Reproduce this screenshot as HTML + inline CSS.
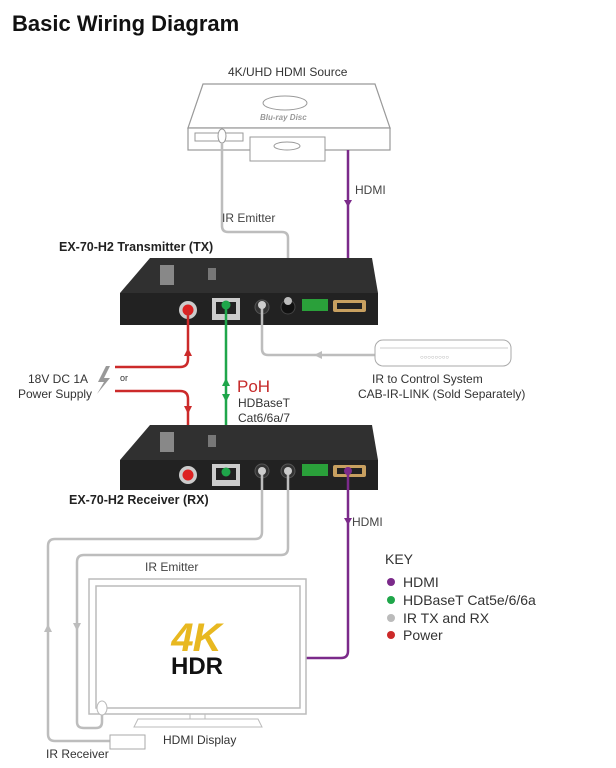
<!DOCTYPE html>
<html><head><meta charset="utf-8"><style>
html,body{margin:0;padding:0;background:#fff;}
svg{display:block;font-family:"Liberation Sans",sans-serif;}
</style></head><body>
<svg width="616" height="768" viewBox="0 0 616 768" xmlns="http://www.w3.org/2000/svg">
<text x="12" y="31" font-size="22" font-weight="bold" fill="#111">Basic Wiring Diagram</text>

<!-- Source -->
<text x="228" y="76" font-size="12" fill="#333">4K/UHD HDMI Source</text>
<path d="M203,84 L375,84 L390,128 L188,128 Z" fill="#fff" stroke="#999" stroke-width="1.2"/>
<rect x="188" y="128" width="202" height="22" fill="#fff" stroke="#999" stroke-width="1.2"/>
<ellipse cx="285" cy="103" rx="22" ry="7" fill="none" stroke="#999"/>
<text x="260" y="120" font-size="8" font-style="italic" font-weight="bold" fill="#999">Blu-ray Disc</text>
<rect x="195" y="133" width="48" height="8" fill="none" stroke="#999"/>
<rect x="250" y="137" width="75" height="24" fill="#fff" stroke="#999"/>
<ellipse cx="287" cy="146" rx="13" ry="4" fill="none" stroke="#999"/>
<ellipse cx="222" cy="136" rx="4" ry="7" fill="#fff" stroke="#999"/>

<path d="M222,143 L222,226 Q222,232 228,232 L282,232 Q288,232 288,238 L288,300" fill="none" stroke="#bdbdbd" stroke-width="2.5"/>
<text x="222" y="222" font-size="12" fill="#444">IR Emitter</text>
<path d="M348,150 L348,302" stroke="#7b2a8a" stroke-width="2.5"/>
<path d="M344,200 L348,207 L352,200 z" fill="#7b2a8a"/>
<text x="355" y="194" font-size="12" fill="#444">HDMI</text>

<!-- TX box -->
<text x="59" y="251" font-size="12.5" font-weight="bold" fill="#222">EX-70-H2 Transmitter (TX)</text>
<path d="M150,258 L372,258 L378,293 L120,293 Z" fill="#303030"/>
<rect x="120" y="293" width="258" height="32" fill="#222"/>
<rect x="160" y="265" width="14" height="20" fill="#888"/>
<rect x="208" y="268" width="8" height="12" fill="#777"/>
<circle cx="188" cy="310" r="9" fill="#ccc"/><circle cx="188" cy="310" r="5.5" fill="#d22"/>
<rect x="212" y="298" width="28" height="22" fill="#ccc"/><rect x="216" y="302" width="20" height="12" fill="#222"/>
<circle cx="262" cy="307" r="7" fill="#333" stroke="#555"/>
<circle cx="288" cy="307" r="7" fill="#111" stroke="#444"/>
<rect x="302" y="299" width="26" height="12" fill="#2aa03a"/>
<rect x="333" y="300" width="33" height="12" rx="2" fill="#c8a060"/><rect x="337" y="303" width="25" height="6" fill="#222"/>
<circle cx="288" cy="301" r="4" fill="#bbb"/>

<path d="M262,305 L262,349 Q262,355 268,355 L376,355" fill="none" stroke="#bdbdbd" stroke-width="2.5"/>
<path d="M322,351 L314,355 L322,359 z" fill="#bdbdbd"/>
<circle cx="262" cy="305" r="4" fill="#ccc"/>
<rect x="375" y="340" width="136" height="26" rx="8" fill="#fff" stroke="#aaa"/>
<line x1="380" y1="348" x2="508" y2="348" stroke="#ccc"/>
<text x="420" y="359" font-size="6" fill="#999">○○○○○○○○</text>
<text x="372" y="383" font-size="12" fill="#333">IR to Control System</text>
<text x="358" y="398" font-size="12" fill="#333">CAB-IR-LINK (Sold Separately)</text>

<!-- Power -->
<text x="28" y="383" font-size="12" fill="#333">18V DC 1A</text>
<text x="18" y="398" font-size="12" fill="#333">Power Supply</text>
<path d="M106,366 L98,382 L104,382 L97,394 L110,378 L104,378 L110,366 Z" fill="#999"/>
<text x="120" y="381" font-size="9" fill="#333">or</text>
<path d="M115,367 L180,367 Q188,367 188,359 L188,310" fill="none" stroke="#cc2a2a" stroke-width="2.5"/>
<path d="M184,356 L188,348 L192,356 z" fill="#cc2a2a"/>
<path d="M115,391 L180,391 Q188,391 188,399 L188,475" fill="none" stroke="#cc2a2a" stroke-width="2.5"/>
<path d="M184,406 L188,414 L192,406 z" fill="#cc2a2a"/>

<path d="M226,305 L226,475" stroke="#1fa64a" stroke-width="2.5"/>
<path d="M222,386 L226,378 L230,386 z" fill="#1fa64a"/>
<path d="M222,394 L226,402 L230,394 z" fill="#1fa64a"/>
<circle cx="226" cy="305" r="4.5" fill="#1fa64a"/>
<text x="237" y="392" font-size="17" fill="#c62a2a">PoH</text>
<text x="238" y="407" font-size="12" fill="#333">HDBaseT</text>
<text x="238" y="422" font-size="12" fill="#333">Cat6/6a/7</text>

<!-- RX box -->
<path d="M150,425 L372,425 L378,460 L120,460 Z" fill="#303030"/>
<rect x="120" y="460" width="258" height="30" fill="#222"/>
<rect x="160" y="432" width="14" height="20" fill="#888"/>
<rect x="208" y="435" width="8" height="12" fill="#777"/>
<circle cx="188" cy="475" r="9" fill="#ccc"/><circle cx="188" cy="475" r="5.5" fill="#d22"/>
<rect x="212" y="464" width="28" height="22" fill="#ccc"/><rect x="216" y="468" width="20" height="12" fill="#222"/>
<circle cx="226" cy="472" r="4.5" fill="#1fa64a"/>
<circle cx="262" cy="471" r="7" fill="#333" stroke="#555"/>
<circle cx="288" cy="471" r="7" fill="#333" stroke="#555"/>
<rect x="302" y="464" width="26" height="12" fill="#2aa03a"/>
<rect x="333" y="465" width="33" height="12" rx="2" fill="#c8a060"/><rect x="337" y="468" width="25" height="6" fill="#222"/>
<text x="69" y="504" font-size="12.5" font-weight="bold" fill="#222">EX-70-H2 Receiver (RX)</text>

<path d="M262,470 L262,532 Q262,539 255,539 L55,539 Q48,539 48,546 L48,734 Q48,741 55,741 L110,741" fill="none" stroke="#bdbdbd" stroke-width="2.5"/>
<path d="M44,632 L48,624 L52,632 z" fill="#bdbdbd"/>
<path d="M288,470 L288,548 Q288,555 281,555 L84,555 Q77,555 77,562 L77,722 Q77,728 84,728 L96,728 Q102,728 102,722 L102,712" fill="none" stroke="#bdbdbd" stroke-width="2.5"/>
<path d="M73,623 L77,631 L81,623 z" fill="#bdbdbd"/>
<circle cx="262" cy="471" r="4" fill="#ccc"/><circle cx="288" cy="471" r="4" fill="#ccc"/>
<text x="145" y="571" font-size="12" fill="#444">IR Emitter</text>

<path d="M348,471 L348,651 Q348,658 341,658 L306,658" fill="none" stroke="#7b2a8a" stroke-width="2.5"/>
<path d="M344,518 L348,525 L352,518 z" fill="#7b2a8a"/>
<circle cx="348" cy="471" r="4" fill="#7b2a8a"/>
<text x="352" y="526" font-size="12" fill="#444">HDMI</text>

<!-- TV -->
<rect x="89" y="579" width="217" height="135" fill="#fff" stroke="#bbb" stroke-width="1.5"/>
<rect x="96" y="586" width="204" height="122" fill="#fff" stroke="#bbb" stroke-width="1.5"/>
<path d="M190,714 L190,719 L205,719 L205,714" fill="none" stroke="#bbb"/>
<path d="M138,719 L258,719 L262,727 L134,727 Z" fill="#fff" stroke="#bbb"/>
<ellipse cx="102" cy="708" rx="5" ry="7" fill="#fff" stroke="#bbb"/>
<text x="196" y="651" font-size="40" font-weight="bold" font-style="italic" fill="#e8b820" text-anchor="middle" letter-spacing="-1">4K</text>
<text x="197" y="674" font-size="24" font-weight="bold" fill="#111" text-anchor="middle">HDR</text>
<rect x="110" y="735" width="35" height="14" fill="#fff" stroke="#aaa"/>
<text x="163" y="744" font-size="12" fill="#333">HDMI Display</text>
<text x="46" y="758" font-size="12" fill="#333">IR Receiver</text>

<text x="385" y="564" font-size="14" fill="#333">KEY</text>
<circle cx="391" cy="582" r="4" fill="#7b2a8a"/><text x="403" y="587" font-size="14" fill="#333">HDMI</text>
<circle cx="391" cy="600" r="4" fill="#1fa64a"/><text x="403" y="605" font-size="14" fill="#333">HDBaseT Cat5e/6/6a</text>
<circle cx="391" cy="618" r="4" fill="#bbb"/><text x="403" y="623" font-size="14" fill="#333">IR TX and RX</text>
<circle cx="391" cy="635" r="4" fill="#cc2a2a"/><text x="403" y="640" font-size="14" fill="#333">Power</text>
</svg>
</body></html>
